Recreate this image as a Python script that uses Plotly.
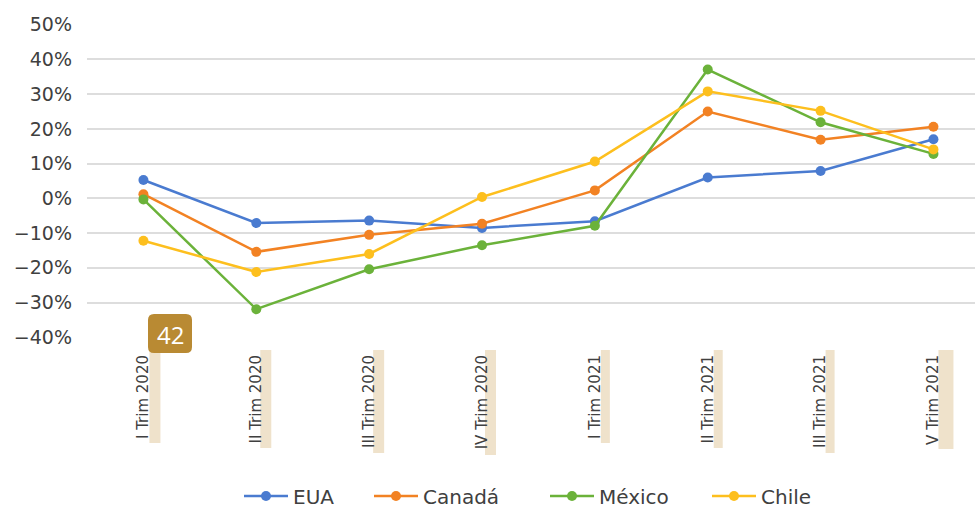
import plotly.graph_objects as go

categories = ["I Trim 2020", "II Trim 2020", "III Trim 2020", "IV Trim 2020",
              "I Trim 2021", "II Trim 2021", "III Trim 2021", "V Trim 2021"]
eua = [5.3, -7.1, -6.4, -8.5, -6.6, 6.0, 7.9, 17.0]
canada = [1.2, -15.4, -10.5, -7.3, 2.3, 25.0, 16.9, 20.6]
mexico = [-0.3, -31.9, -20.4, -13.5, -7.9, 37.1, 21.9, 12.8]
chile = [-12.2, -21.2, -16.0, 0.4, 10.6, 30.8, 25.2, 14.1]
y_ticks = [-40, -30, -20, -10, 0, 10, 20, 30, 40, 50]
y_tick_labels = [("\u2212" if v < 0 else "") + f"{abs(v)}%" for v in y_ticks]
badge_text = "42"

series = [("EUA", eua, "#4A7BD0"), ("Canadá", canada, "#F28223"),
          ("México", mexico, "#6BB23A"), ("Chile", chile, "#FDBF1E")]
legend_x_px = [239, 369, 545, 707]

W, H = 975, 510
L, R, T, B = 87, 0, 24, 172
PW, PH = W - L - R, H - T - B


def px(x):
    return (x - L) / PW


def py(y):
    return (H - B - y) / PH


fig = go.Figure()
legend_layouts = {}
for k, (name, vals, col) in enumerate(series):
    lg = "legend" if k == 0 else f"legend{k + 1}"
    fig.add_trace(go.Scatter(
        x=list(range(len(categories))), y=vals, name=name, mode="lines+markers",
        line=dict(color=col, width=2.5), marker=dict(color=col, size=10),
        legend=lg))
    legend_layouts[lg] = dict(
        orientation="h", xanchor="left", yanchor="middle",
        x=px(legend_x_px[k]), y=py(496), font=dict(size=20, color="#404040"),
        itemwidth=44, bgcolor="rgba(0,0,0,0)", borderwidth=0)

shapes = []
# beige strips beside the category labels (offsets in px relative to tick)
strip_geo = [(6, 17, 105), (4, 15, 110), (4, 15, 115), (3, 14, 117),
             (6, 15, 105), (6, 15, 110), (5, 14, 115), (5, 20, 111)]
for i, (a, b, ln) in enumerate(strip_geo):
    shapes.append(dict(type="rect", xref="x", xsizemode="pixel", xanchor=i,
                       x0=a, x1=b, yref="paper", ysizemode="pixel", yanchor=0,
                       y0=-12, y1=-ln, fillcolor="#EFE2CB", line=dict(width=0),
                       layer="below"))

# badge with rounded corners
bx0, bx1, by0, by1, r = 148, 192, 314, 353, 6
path = (f"M {px(bx0 + r)},{py(by0)} L {px(bx1 - r)},{py(by0)} "
        f"Q {px(bx1)},{py(by0)} {px(bx1)},{py(by0 + r)} "
        f"L {px(bx1)},{py(by1 - r)} Q {px(bx1)},{py(by1)} {px(bx1 - r)},{py(by1)} "
        f"L {px(bx0 + r)},{py(by1)} Q {px(bx0)},{py(by1)} {px(bx0)},{py(by1 - r)} "
        f"L {px(bx0)},{py(by0 + r)} Q {px(bx0)},{py(by0)} {px(bx0 + r)},{py(by0)} Z")
shapes.append(dict(type="path", xref="paper", yref="paper", path=path,
                   fillcolor="#B98A33", line=dict(width=0), layer="above"))

fig.update_layout(
    width=W, height=H,
    margin=dict(l=L, r=R, t=T, b=B, autoexpand=False),
    plot_bgcolor="white", paper_bgcolor="white",
    font=dict(family="DejaVu Sans", color="#404040"),
    showlegend=True,
    shapes=shapes,
    annotations=[dict(text=badge_text, xref="paper", yref="paper",
                      x=px(170), y=py(334), xanchor="center", yanchor="middle",
                      showarrow=False,
                      font=dict(family="Open Sans", size=24, color="white"))],
    **legend_layouts,
)
fig.update_xaxes(
    range=[-0.5, -0.5 + PW / 112.86], tickvals=list(range(len(categories))),
    ticktext=categories, tickangle=-90, showgrid=False, zeroline=False,
    showline=False, ticks="", ticklabelstandoff=13,
    tickfont=dict(size=15, color="#404040"), fixedrange=True)
fig.update_yaxes(
    range=[-40.2, 50.2], tickvals=y_ticks, ticktext=y_tick_labels,
    showgrid=True, gridcolor="#DDDDDD", gridwidth=1.5, zeroline=False,
    showline=False, ticks="", ticklabelstandoff=14,
    tickfont=dict(size=19, color="#404040"), fixedrange=True)

fig.write_html("out.html", config={"displayModeBar": False},
               post_script="document.body.style.margin='0';")
